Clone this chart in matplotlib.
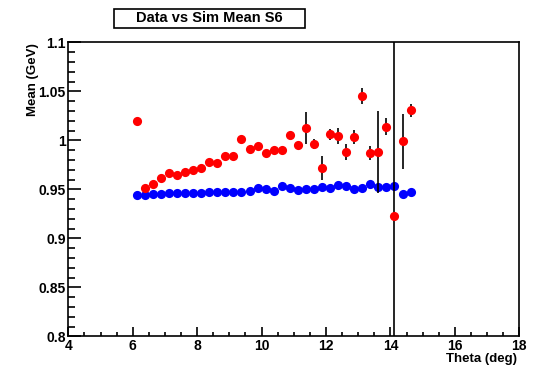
import matplotlib
matplotlib.use("Agg")
import matplotlib.pyplot as plt
from matplotlib.ticker import MultipleLocator
from matplotlib.patches import Rectangle

theta = [6.125 + 0.25 * i for i in range(35)]

data_mean = [1.020, 0.951, 0.955, 0.962, 0.967, 0.965, 0.968, 0.970, 0.972, 0.978,
             0.977, 0.984, 0.984, 1.001, 0.991, 0.994, 0.987, 0.990, 0.990, 1.0055,
             0.995, 1.0124, 0.996, 0.972, 1.006, 1.0045, 0.988, 1.0034, 1.045, 0.987,
             0.988, 1.014, 0.923, 0.999, 1.0305]
data_err = [0.002, 0.002, 0.002, 0.002, 0.002, 0.002, 0.002, 0.002, 0.002, 0.002,
            0.002, 0.002, 0.002, 0.002, 0.002, 0.002, 0.002, 0.002, 0.002, 0.002,
            0.002, 0.016, 0.005, 0.012, 0.006, 0.008, 0.008, 0.007, 0.008, 0.007,
            0.042, 0.009, 0.5, 0.028, 0.007]

sim_mean = [0.9445, 0.9445, 0.9452, 0.9455, 0.9459, 0.9459, 0.9459, 0.9462, 0.9466, 0.9469,
            0.9469, 0.9469, 0.9473, 0.9476, 0.9479, 0.9510, 0.9507, 0.9486, 0.9531, 0.9517,
            0.9490, 0.9500, 0.9500, 0.9520, 0.9510, 0.9544, 0.9534, 0.9503, 0.9513, 0.9558,
            0.9520, 0.9527, 0.9531, 0.9455, 0.9476]

plt.rcParams['font.family'] = ['Liberation Sans', 'DejaVu Sans']
plt.rcParams['font.weight'] = 'bold'

W, H = 536, 368
fig = plt.figure(figsize=(W / 100, H / 100), dpi=100)
ax = fig.add_axes([68.3 / W, 1 - 336.3 / H, (519.3 - 68.3) / W, (336.3 - 42.3) / H])

ax.plot(theta, sim_mean, 'o', color='#0000ff', markersize=6.6, markeredgewidth=0, zorder=2)
ax.errorbar(theta, data_mean, yerr=data_err, fmt='o', color='#ff0000', markersize=6.6,
            markeredgewidth=0, ecolor='black', elinewidth=1.2, capsize=2.5, capthick=1.2, zorder=3)

ax.set_xlim(4, 18)
ax.set_ylim(0.8, 1.1)
ax.xaxis.set_major_locator(MultipleLocator(2))
ax.xaxis.set_minor_locator(MultipleLocator(0.5))
ax.yaxis.set_major_locator(MultipleLocator(0.05))
ax.yaxis.set_minor_locator(MultipleLocator(0.01))
ax.tick_params(which='both', direction='in', top=False, right=False, width=1.2,
               labelsize=10)
ax.tick_params(axis='x', which='major', length=6.2, pad=2)
ax.tick_params(axis='x', which='minor', length=3.1)
ax.tick_params(axis='y', which='major', length=9.5, pad=2)
ax.tick_params(axis='y', which='minor', length=4.8)
ax.set_yticks([0.8, 0.85, 0.9, 0.95, 1.0, 1.05, 1.1])
ax.set_yticklabels(['0.8', '0.85', '0.9', '0.95', '1', '1.05', '1.1'])
for lab in ax.get_xticklabels() + ax.get_yticklabels():
    lab.set_fontweight('bold')
for s in ax.spines.values():
    s.set_linewidth(1.2)

fig.text(517 / W, 1 - 359 / H, 'Theta (deg)', ha='right', va='center', fontsize=9.5,
         fontweight='bold')
fig.text(33 / W, 1 - 43 / H, 'Mean (GeV)', ha='center', va='top', rotation=90, fontsize=9.5,
         fontweight='bold')

fig.patches.append(Rectangle((114 / W, 1 - 28 / H), (305 - 114) / W, 19 / H,
                             transform=fig.transFigure, facecolor='white',
                             edgecolor='black', linewidth=1.2))
fig.text((114 + 305) / 2 / W, 1 - 18.5 / H, 'Data vs Sim Mean S6', ha='center', va='center',
         fontsize=10.5, fontweight='bold')

fig.savefig('out.png', dpi=100)
